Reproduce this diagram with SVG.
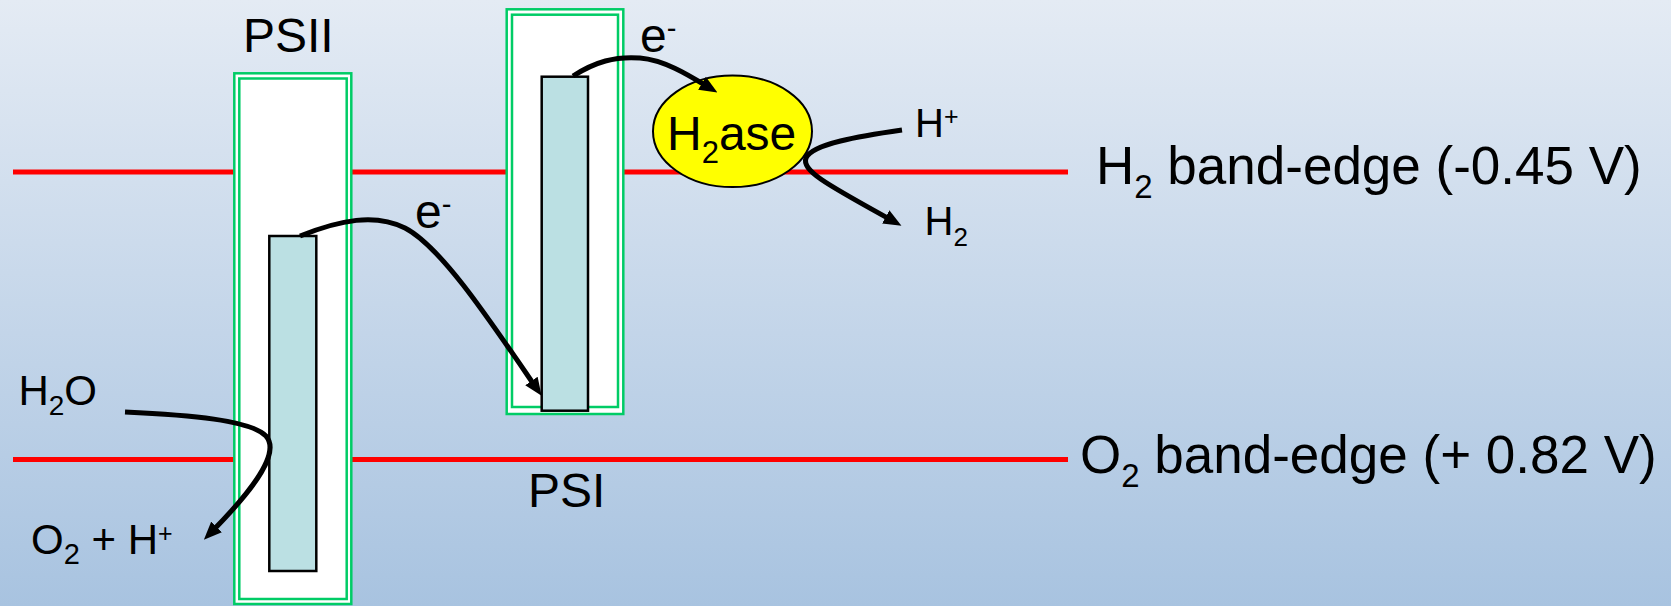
<svg xmlns="http://www.w3.org/2000/svg" width="1671" height="606" viewBox="0 0 1671 606">
<defs>
<linearGradient id="bg" x1="0" y1="0" x2="0" y2="1">
<stop offset="0" stop-color="#E4EBF4"/>
<stop offset="1" stop-color="#A8C3E0"/>
</linearGradient>
<marker id="arr" viewBox="0 0 18 15" refX="9" refY="7.5" markerWidth="18" markerHeight="15" markerUnits="userSpaceOnUse" orient="auto">
<path d="M0,0 L18,7.5 L0,15 z" fill="#000"/>
</marker>
</defs>
<style>
text{font-family:"Liberation Sans",Arial,sans-serif;fill:#000}
.band{stroke:#FF0000;stroke-width:5;fill:none}
.frame{fill:#FFFFFF;stroke:#00CC66;stroke-width:2.5}
.core{fill:#BBE0E3;stroke:#000;stroke-width:2.5}
.conn{fill:none;stroke:#000;stroke-width:5;marker-end:url(#arr)}
</style>
<rect x="0" y="0" width="1671" height="606" fill="url(#bg)"/>
<g id="bands">
<line class="band" x1="13" y1="172" x2="1068" y2="172"/>
<line class="band" x1="13" y1="459.5" x2="1068" y2="459.5"/>
</g>
<g id="psii">
<rect class="frame" x="234.3" y="73.3" width="117" height="530.7"/>
<rect class="frame" x="239.3" y="78.5" width="107.4" height="520.5"/>
<rect class="core" x="269.3" y="236" width="47" height="335"/>
<text x="243" y="52" font-size="48">PSII</text>
</g>
<g id="psi">
<rect class="frame" x="506.7" y="9.3" width="116.6" height="404.7"/>
<rect class="frame" x="512" y="14.7" width="106" height="392.3"/>
<rect class="core" x="541.7" y="76.7" width="46.3" height="334"/>
<text x="528" y="507" font-size="48">PSI</text>
</g>
<g id="h2ase">
<ellipse cx="732.5" cy="131.3" rx="79.5" ry="55.8" fill="#FFFF00" stroke="#000" stroke-width="2"/>
<text x="667" y="150" font-size="48">H<tspan font-size="31" dy="13">2</tspan><tspan dy="-13">ase</tspan></text>
</g>
<g id="labels">
<text x="640" y="52" font-size="48">e<tspan font-size="29" dy="-14">-</tspan></text>
<text x="415" y="228" font-size="48">e<tspan font-size="29" dy="-14">-</tspan></text>
<text x="915" y="137" font-size="40">H<tspan font-size="25" dy="-12">+</tspan></text>
<text x="924.5" y="235" font-size="40">H<tspan font-size="26" dy="11">2</tspan></text>
<text x="18.4" y="405" font-size="42">H<tspan font-size="28" dy="10">2</tspan><tspan dy="-10">O</tspan></text>
<text x="31" y="554" font-size="42">O<tspan font-size="29" dy="10">2</tspan><tspan dy="-10"> + H</tspan><tspan font-size="25" dy="-12">+</tspan></text>
<text x="1096" y="184" font-size="53">H<tspan font-size="33" dy="14">2</tspan><tspan dy="-14"> band-edge (-0.45 V)</tspan></text>
<text x="1080" y="473" font-size="53">O<tspan font-size="33" dy="14">2</tspan><tspan dy="-14"> band-edge (+ 0.82 V)</tspan></text>
</g>
<g id="connectors">
<path class="conn" d="M300,236 C340,220 375,213 405,228 C440,246 487,316 536.5,388.4"/>
<path class="conn" d="M573,76 C595,62 615,56 640,58 C665,60 690,76 709.7,87.9"/>
<path class="conn" d="M902,130 C860,136 812,144 806,158 C801,171 830,186 893.6,221.3"/>
<path class="conn" d="M125,412 C190,415 250,420 266,436 C280,452 258,485 210.2,533.3"/>
</g>
</svg>
